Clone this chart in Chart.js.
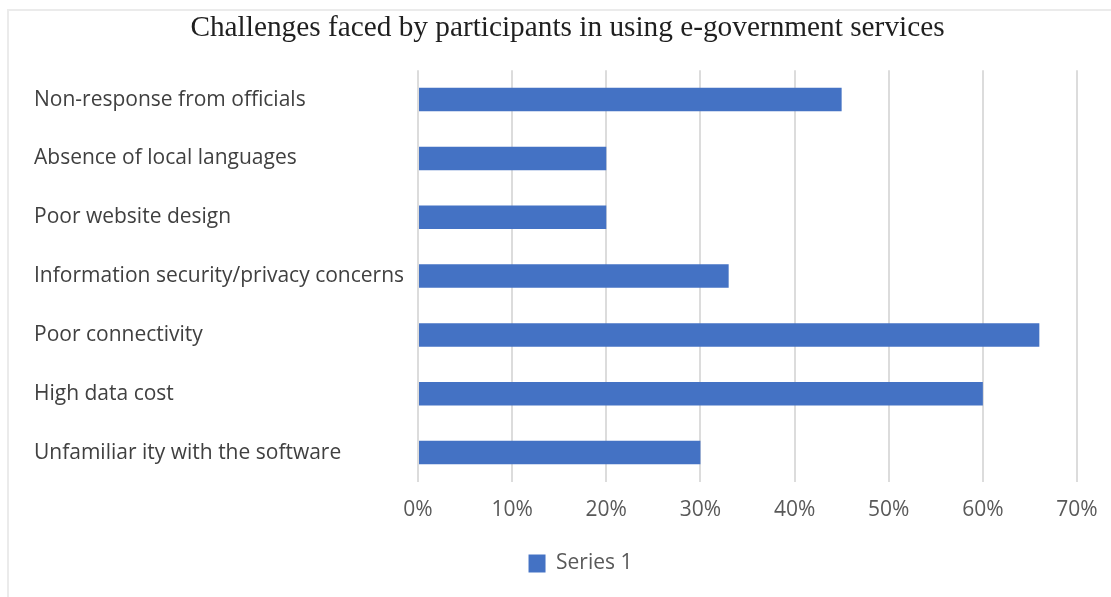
<!DOCTYPE html>
<html>
<head>
<meta charset="utf-8">
<script src="https://cdn.jsdelivr.net/npm/chart.js@4"></script>
<style>
  html, body { margin: 0; padding: 0; background: #ffffff; }
  #wrap { position: relative; width: 1111px; height: 597px; overflow: hidden; }
  #chart { position: absolute; left: 0; top: 0; }
  #frame {
    position: absolute; left: 7px; top: 9px; right: -4px; bottom: -4px;
    border-top: 2px solid #ebebeb; border-left: 2px solid #ebebeb;
    pointer-events: none;
  }
</style>
</head>
<body>
<div id="wrap">
  <canvas id="chart" width="1111" height="597"></canvas>
  <div id="frame"></div>
</div>
<script>
// Challenge categories, top to bottom
const categories = [
  'Non-response from officials',
  'Absence of local languages',
  'Poor website design',
  'Information security/privacy concerns',
  'Poor connectivity',
  'High data cost',
  'Unfamiliar ity with the software'
];

// Share of participants reporting each challenge (%)
const series1 = [45, 20, 20, 33, 66, 60, 30];

// Horizontal axis ticks (%)
const xTicks = [0, 10, 20, 30, 40, 50, 60, 70];

const seriesName = 'Series 1';
const chartTitle = 'Challenges faced by participants in using e-government services';

const labelFont = "'Open Sans', 'DejaVu Sans', sans-serif";

// Centre the title and legend over the plot area instead of the full canvas
const blockShift = {
  id: 'blockShift',
  afterLayout(chart) {
    if (chart.titleBlock) chart.titleBlock.left += 24;
    if (chart.legend) chart.legend.left += 50;
  }
};

new Chart(document.getElementById('chart'), {
  type: 'bar',
  data: {
    labels: categories,
    datasets: [{
      label: seriesName,
      data: series1,
      backgroundColor: '#4472C4',
      borderWidth: 0,
      barPercentage: 0.4,
      categoryPercentage: 1.0
    }]
  },
  options: {
    indexAxis: 'y',
    responsive: false,
    animation: false,
    layout: { padding: { left: 34, right: 34, top: 0, bottom: 13 } },
    plugins: {
      title: {
        display: true,
        text: chartTitle,
        color: '#1f1f1f',
        font: { family: "'Liberation Serif', 'DejaVu Serif', serif", size: 29.3, weight: 'normal' },
        padding: { top: 11, bottom: 24 }
      },
      legend: {
        display: true,
        position: 'bottom',
        labels: {
          color: '#595959',
          font: { family: labelFont, size: 21 },
          boxWidth: 17,
          boxHeight: 18,
          padding: 8
        }
      },
      tooltip: { enabled: false }
    },
    scales: {
      x: {
        min: 0,
        max: 70,
        afterBuildTicks(scale) {
          scale.ticks = xTicks.map(v => ({ value: v }));
        },
        ticks: {
          callback: v => v + '%',
          color: '#595959',
          font: { family: labelFont, size: 21 },
          padding: 15,
          maxRotation: 0
        },
        grid: { color: '#dcdcdc', lineWidth: 2, drawTicks: false },
        border: { display: false },
        afterFit(scale) {
          scale.height = 63;
          scale.paddingLeft = 0;
          scale.paddingRight = 0;
        }
      },
      y: {
        ticks: {
          color: '#404040',
          font: { family: labelFont, size: 21 },
          crossAlign: 'far',
          padding: 13
        },
        grid: { display: false, drawTicks: false },
        border: { display: false },
        afterFit(scale) { scale.width = 384; }
      }
    }
  },
  plugins: [blockShift]
});
</script>
</body>
</html>
